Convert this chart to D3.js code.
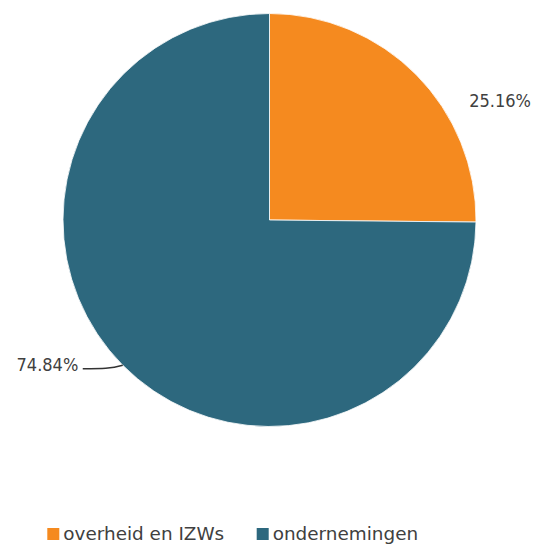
<!DOCTYPE html>
<html>
<head>
<meta charset="utf-8">
<script src="https://cdn.jsdelivr.net/npm/d3@7"></script>
<style>
  html, body { margin: 0; padding: 0; background: #fff; }
  svg { display: block; }
</style>
</head>
<body>
<svg id="chart" width="533" height="545"></svg>
<script>
const categories = ["overheid en IZWs", "ondernemingen"];
const values = [25.16, 74.84];
const labels = ["25.16%", "74.84%"];
const colors = ["#F58A1F", "#2D687E"];

const svg = d3.select("#chart");
const cx = 269.5, cy = 220, r = 206.5;
const g = svg.append("g").attr("transform", `translate(${cx},${cy})`);

const pie = d3.pie().sort(null).value(d => d)(values);
const arc = d3.arc().innerRadius(0).outerRadius(r);
const edge = d3.arc().innerRadius(r).outerRadius(r);

g.selectAll("path.slice").data(pie).enter().append("path")
  .attr("class", "slice")
  .attr("d", arc)
  .attr("fill", (d, i) => colors[i])
  .attr("stroke", "#fff")
  .attr("stroke-width", 0.8);

const font = "'DejaVu Sans Condensed', 'DejaVu Sans', sans-serif";
pie.forEach((d, i) => {
  const [px, py] = edge.centroid(d);
  const right = px > 0;
  if (right) {
    g.append("text")
      .attr("x", px + 53).attr("y", py + 32)
      .attr("text-anchor", "start")
      .attr("font-family", font).attr("font-size", 18)
      .attr("fill", "#404040")
      .text(labels[i]);
  } else {
    const ex = px - 40, ey = py + 3.5;
    g.append("path")
      .attr("d", `M${px},${py} C${px - 12},${ey} ${px - 20},${ey} ${ex},${ey}`)
      .attr("fill", "none").attr("stroke", "#333").attr("stroke-width", 1.5);
    g.append("text")
      .attr("x", ex - 4.5).attr("y", py + 6)
      .attr("text-anchor", "end")
      .attr("font-family", font).attr("font-size", 18)
      .attr("fill", "#404040")
      .text(labels[i]);
  }
});

// Legend
const legendX = [47.3, 256.7];
const lg = svg.append("g");
categories.forEach((c, i) => {
  lg.append("rect")
    .attr("x", legendX[i]).attr("y", 528).attr("width", 12).attr("height", 12)
    .attr("fill", colors[i]);
  lg.append("text")
    .attr("x", legendX[i] + 16).attr("y", 540)
    .attr("font-family", "'DejaVu Sans', sans-serif").attr("font-size", 18.4)
    .attr("fill", "#404040")
    .text(c);
});
</script>
</body>
</html>
